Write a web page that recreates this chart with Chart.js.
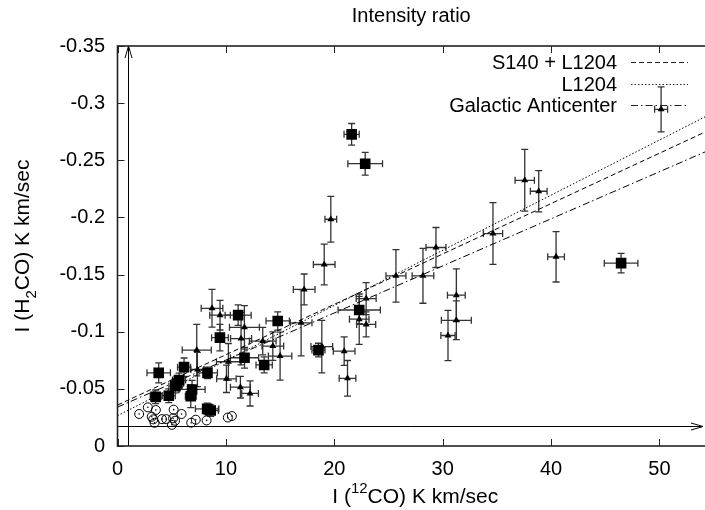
<!DOCTYPE html>
<html><head><meta charset="utf-8">
<script src="https://cdn.jsdelivr.net/npm/chart.js@4.4.1/dist/chart.umd.min.js"></script>
<style>html,body{margin:0;padding:0;background:#fff;}</style>
</head><body>
<canvas id="c" width="705" height="510"></canvas>
<script>
// ---------- DATA ----------
const titleText = 'Intensity ratio';
const xTicks = [0, 10, 20, 30, 40, 50];
const yTicks = [-0.35, -0.3, -0.25, -0.2, -0.15, -0.1, -0.05, 0];
const yTickLabels = ['-0.35', '-0.3', '-0.25', '-0.2', '-0.15', '-0.1', '-0.05', '0'];

// filled squares
const sqX    = [21.6, 22.85, 46.46, 22.3, 18.54, 14.78, 13.53, 11.72, 11.13, 9.45, 8.3, 8.27, 8.6, 6.88, 6.76, 6.14, 5.68, 5.5, 5.34, 4.73, 3.52, 3.8];
const sqY    = [-0.2727, -0.247, -0.160, -0.119, -0.0839, -0.1094, -0.0709, -0.0772, -0.1145, -0.0948, -0.064, -0.0325, -0.031, -0.0495, -0.0435, -0.069, -0.0577, -0.055, -0.0524, -0.044, -0.043, -0.064];
const sqXErr = [0.7, 1.6, 1.55, 1.95, 0.6, 1.08, 0.75, 1.3, 1.2, 0.77, 0.92, 1.08, 0.7, 1.2, 0.5, 0.6, 0.6, 0.6, 0.6, 0.6, 0.5, 1.08];
const sqYErr = [0.0095, 0.0099, 0.0085, 0.012, 0.006, 0.008, 0.007, 0.009, 0.009, 0.0116, 0.005, 0.005, 0.005, 0.008, 0.01, 0.008, 0.006, 0.006, 0.006, 0.006, 0.006, 0.0087];

// filled triangles
const triX    = [50.15, 37.57, 38.86, 34.64, 40.46, 29.38, 25.69, 28.18, 31.26, 31.26, 30.49, 19.68, 17.22, 19.07, 16.94, 22.94, 22.3, 22.94, 18.85, 20.91, 21.22, 8.72, 9.46, 11.71, 11.4, 13.4, 14.33, 15.0, 7.31, 7.37, 10.23, 10.05, 11.34, 12.23];
const triY    = [-0.2946, -0.2325, -0.2229, -0.1859, -0.1655, -0.1737, -0.1489, -0.1489, -0.132, -0.110, -0.0967, -0.1984, -0.137, -0.1588, -0.1078, -0.129, -0.111, -0.1064, -0.087, -0.083, -0.0592, -0.1205, -0.1145, -0.1038, -0.094, -0.0918, -0.0874, -0.0787, -0.0839, -0.067, -0.0737, -0.0588, -0.0515, -0.046];
const triXErr = [0.6, 0.89, 0.77, 0.89, 0.77, 0.92, 0.92, 1.0, 0.82, 1.38, 0.66, 0.54, 1.0, 1.0, 1.0, 0.92, 0.9, 0.88, 1.0, 1.0, 0.77, 1.0, 0.95, 1.38, 0.97, 1.23, 1.0, 1.08, 1.34, 0.6, 1.1, 0.9, 0.92, 0.77];
const triYErr = [0.0197, 0.027, 0.018, 0.027, 0.022, 0.0175, 0.023, 0.024, 0.023, 0.017, 0.022, 0.02, 0.0135, 0.0178, 0.029, 0.014, 0.022, 0.011, 0.023, 0.0125, 0.0156, 0.0165, 0.013, 0.019, 0.023, 0.012, 0.0124, 0.021, 0.0225, 0.015, 0.016, 0.012, 0.0095, 0.011];

// open circles
const circX = [2.0, 2.8, 3.54, 3.16, 3.3, 3.42, 4.1, 4.5, 5.18, 5.13, 5.31, 5.91, 5.02, 6.8, 7.22, 8.22, 10.18, 10.55];
const circY = [-0.028, -0.0338, -0.0315, -0.0256, -0.0233, -0.0203, -0.0235, -0.0235, -0.0318, -0.0242, -0.0221, -0.028, -0.0185, -0.0204, -0.023, -0.0224, -0.0249, -0.0262];

// fitted lines (end points)
const fitLabels = ['S140 + L1204', 'L1204', 'Galactic Anticenter'];
const fitS140L1204 = [{x: 0, y: -0.0358}, {x: 54.2, y: -0.2747}];
const fitL1204     = [{x: 0, y: -0.0265}, {x: 54.2, y: -0.288}];
const fitAnticenter= [{x: 0, y: -0.034},  {x: 54.2, y: -0.2573}];

// reference lines
const refLineY = -0.0175;
const refLineX = 0.94;

// ---------- CHART ----------
const FONT = "'Liberation Sans', Arial, Helvetica, sans-serif";
const pts = (xs, ys) => xs.map((x, i) => ({x: x, y: ys[i]}));
const dashes = [[5, 3], [1.5, 2], [7, 3, 1.5, 3]];

const errorBarPlugin = {
  id: 'errorBars',
  beforeDatasetsDraw(chart) {
    const {ctx, scales: {x, y}, chartArea: a} = chart;
    ctx.save();
    ctx.beginPath(); ctx.rect(a.left, a.top, a.right - a.left, a.bottom - a.top); ctx.clip();
    ctx.strokeStyle = '#333'; ctx.lineWidth = 1.3;
    const cap = 3.5;
    const draw = (xs, ys, xe, ye) => {
      for (let i = 0; i < xs.length; i++) {
        const px = x.getPixelForValue(xs[i]), py = y.getPixelForValue(ys[i]);
        const x1 = x.getPixelForValue(xs[i] - xe[i]), x2 = x.getPixelForValue(xs[i] + xe[i]);
        const y1 = y.getPixelForValue(ys[i] - ye[i]), y2 = y.getPixelForValue(ys[i] + ye[i]);
        ctx.beginPath();
        ctx.moveTo(x1, py); ctx.lineTo(x2, py);
        ctx.moveTo(x1, py - cap); ctx.lineTo(x1, py + cap);
        ctx.moveTo(x2, py - cap); ctx.lineTo(x2, py + cap);
        ctx.moveTo(px, y1); ctx.lineTo(px, y2);
        ctx.moveTo(px - cap, y1); ctx.lineTo(px + cap, y1);
        ctx.moveTo(px - cap, y2); ctx.lineTo(px + cap, y2);
        ctx.stroke();
      }
    };
    draw(sqX, sqY, sqXErr, sqYErr);
    draw(triX, triY, triXErr, triYErr);
    ctx.restore();
  }
};

const decorPlugin = {
  id: 'decor',
  afterDraw(chart) {
    const {ctx, scales: {x, y}, chartArea: a} = chart;
    ctx.save();
    // reference lines with arrows
    ctx.strokeStyle = '#000'; ctx.lineWidth = 1;
    const hy = Math.round(y.getPixelForValue(refLineY)) + 0.5;
    const hx2 = a.right - 2;
    ctx.beginPath(); ctx.moveTo(a.left, hy); ctx.lineTo(hx2, hy); ctx.stroke();
    ctx.beginPath(); ctx.moveTo(hx2 - 12, hy - 3.5); ctx.lineTo(hx2, hy); ctx.lineTo(hx2 - 12, hy + 3.5); ctx.stroke();
    const vx = Math.round(x.getPixelForValue(refLineX)) + 0.5;
    ctx.beginPath(); ctx.moveTo(vx, a.bottom); ctx.lineTo(vx, a.top); ctx.stroke();
    ctx.beginPath(); ctx.moveTo(vx - 3.5, a.top + 12); ctx.lineTo(vx, a.top); ctx.lineTo(vx + 3.5, a.top + 12); ctx.stroke();

    // frame
    ctx.strokeStyle = '#222'; ctx.lineWidth = 1.6;
    ctx.strokeRect(a.left, a.top, a.right - a.left + 6, a.bottom - a.top);
    // inner ticks
    ctx.lineWidth = 1;
    xTicks.forEach(v => {
      const px = Math.round(x.getPixelForValue(v)) + 0.5;
      ctx.beginPath(); ctx.moveTo(px, a.bottom); ctx.lineTo(px, a.bottom - 7);
      ctx.moveTo(px, a.top); ctx.lineTo(px, a.top + 7); ctx.stroke();
    });
    yTicks.forEach(v => {
      const py = Math.round(y.getPixelForValue(v)) + 0.5;
      ctx.beginPath(); ctx.moveTo(a.left, py); ctx.lineTo(a.left + 7, py); ctx.stroke();
    });

    // legend
    ctx.fillStyle = '#000';
    ctx.font = '20px ' + FONT;
    ctx.textAlign = 'right'; ctx.textBaseline = 'middle';
    const rows = [63, 85, 106];
    fitLabels.forEach((t, i) => {
      ctx.fillText(t, 617, rows[i]);
      ctx.setLineDash(dashes[i]);
      ctx.beginPath(); ctx.moveTo(631, rows[i] - 0.5); ctx.lineTo(688, rows[i] - 0.5); ctx.stroke();
    });
    ctx.setLineDash([]);

    // axis titles with super/subscripts
    const mainF = '21px ' + FONT, smallF = '15px ' + FONT;
    ctx.textAlign = 'left'; ctx.textBaseline = 'alphabetic';
    const drawParts = (parts, cx, base) => {
      let w = 0;
      parts.forEach(p => { ctx.font = p[2] ? smallF : mainF; w += ctx.measureText(p[0]).width; });
      let cur = cx - w / 2;
      parts.forEach(p => {
        ctx.font = p[2] ? smallF : mainF;
        ctx.fillText(p[0], cur, base + (p[1] || 0));
        cur += ctx.measureText(p[0]).width;
      });
    };
    drawParts([['I ('], ['12', -10, 1], ['CO) K km/sec']], (a.left + a.right) / 2 + 4, 503);
    ctx.save();
    ctx.translate(28.5, (a.top + a.bottom) / 2);
    ctx.rotate(-Math.PI / 2);
    drawParts([['I (H'], ['2', 7, 1], ['CO) K km/sec']], 0, 0);
    ctx.restore();
    ctx.restore();
  }
};

new Chart(document.getElementById('c').getContext('2d'), {
  type: 'scatter',
  data: {
    datasets: [
      {label: 'squares', data: pts(sqX, sqY), pointStyle: 'rect', pointRadius: 7.5, backgroundColor: '#000', borderColor: '#000', borderWidth: 0},
      {label: 'triangles', data: pts(triX, triY), pointStyle: 'triangle', pointRadius: 4, backgroundColor: '#000', borderColor: '#000', borderWidth: 0},
      {label: 'circles', data: pts(circX, circY), pointStyle: 'circle', pointRadius: 4.5, backgroundColor: 'rgba(0,0,0,0)', borderColor: '#000', borderWidth: 1},
      {label: 'circle centres', data: pts(circX, circY), pointStyle: 'circle', pointRadius: 0.8, backgroundColor: '#000', borderColor: '#000', borderWidth: 0},
      {label: fitLabels[0], type: 'line', data: fitS140L1204, borderColor: '#000', borderWidth: 1, borderDash: dashes[0], pointRadius: 0, fill: false},
      {label: fitLabels[1], type: 'line', data: fitL1204, borderColor: '#000', borderWidth: 1, borderDash: dashes[1], pointRadius: 0, fill: false},
      {label: fitLabels[2], type: 'line', data: fitAnticenter, borderColor: '#000', borderWidth: 1, borderDash: dashes[2], pointRadius: 0, fill: false}
    ]
  },
  options: {
    responsive: false, animation: false, devicePixelRatio: 1,
    layout: {padding: 0, autoPadding: false},
    plugins: {
      legend: {display: false}, tooltip: {enabled: false},
      title: {display: true, text: titleText, fullSize: false, color: '#000',
        font: {family: FONT, size: 20, weight: 'normal', lineHeight: 1.2}, padding: {top: 4, bottom: 18}}
    },
    scales: {
      x: {
        type: 'linear', min: 0, max: 54.2,
        afterFit(s) { s.height = 64; },
        afterBuildTicks(s) { s.ticks = xTicks.map(v => ({value: v})); },
        grid: {display: false, drawTicks: true, tickLength: 8},
        border: {display: false},
        ticks: {autoSkip: false, maxRotation: 0, color: '#000', padding: 3, font: {family: FONT, size: 20}, callback: v => String(v)}
      },
      y: {
        type: 'linear', min: -0.35, max: 0, reverse: true,
        afterFit(s) { s.width = 117.5; },
        afterBuildTicks(s) { s.ticks = yTicks.map(v => ({value: v})); },
        grid: {display: false, drawTicks: true, tickLength: 8},
        border: {display: false},
        ticks: {autoSkip: false, color: '#000', padding: 4.5, font: {family: FONT, size: 20}, callback: (v, i) => yTickLabels[i]}
      }
    }
  },
  plugins: [errorBarPlugin, decorPlugin]
});
</script>
</body></html>
